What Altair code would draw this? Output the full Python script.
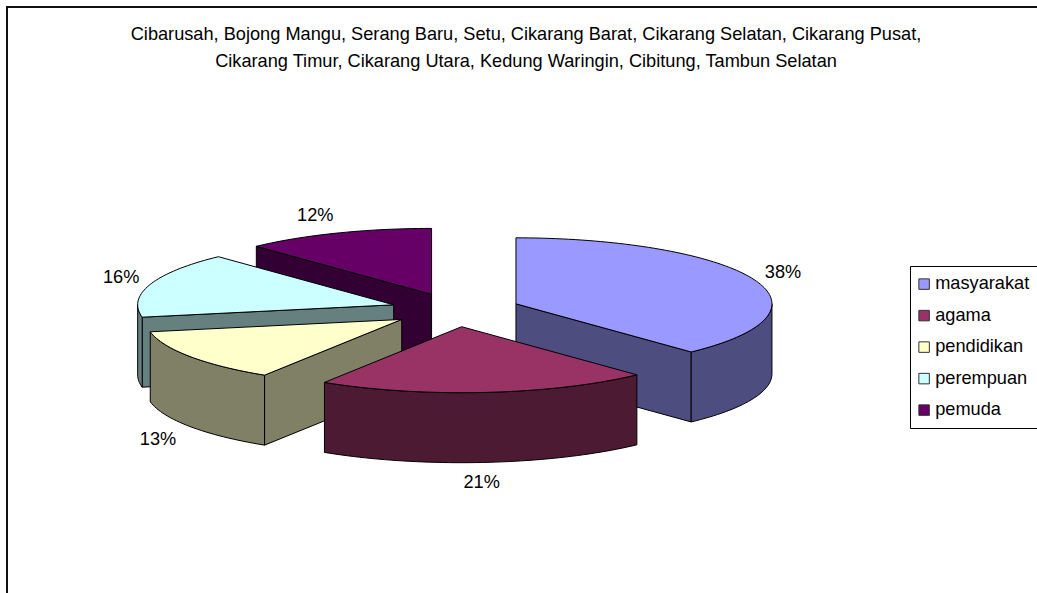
import math

import altair as alt

# Chart content
categories = ["masyarakat", "agama", "pendidikan", "perempuan", "pemuda"]
shares = [38, 21, 13, 16, 12]
heading_lines = [
    "Cibarusah, Bojong Mangu, Serang Baru, Setu, Cikarang Barat, Cikarang Selatan, Cikarang Pusat,",
    "Cikarang Timur, Cikarang Utara, Kedung Waringin, Cibitung, Tambun Selatan",
]

# Styling
top_colors = ["#9999FF", "#993366", "#FFFFCC", "#CCFFFF", "#660066"]
wall_colors = ["#4D4D80", "#4D1A33", "#808066", "#668080", "#330033"]
FONT = "Liberation Sans"
FONT_SIZE = 18.2

# Pie geometry: an ellipse seen from above, with every slice pulled out along its middle
CENTER_X, CENTER_Y = 455.5, 310
RADIUS_X, RADIUS_Y = 256, 66
WALL = 70
EXPLODE = 0.254
STEP = 1.5
PAINT_ORDER = [4, 3, 2, 0, 1]  # back to front
LABEL_NUDGE = [(29, -7), (-4, 21), (-32, 13), (-29, -6), (-22, -17)]


def rim(apex, angle, drop=0):
    rad = math.radians(angle)
    return [apex[0] + RADIUS_X * math.sin(rad), apex[1] - RADIUS_Y * math.cos(rad) + drop]


def arc(apex, start, end, drop=0):
    count = max(1, math.ceil((end - start) / STEP))
    return [rim(apex, start + (end - start) * i / count, drop) for i in range(count + 1)]


def face(name, ring):
    closed = ring + [ring[0]]
    return {
        "type": "Feature",
        "properties": {"face": name},
        "geometry": {"type": "Polygon", "coordinates": [closed]},
    }


def radial_wall(name, apex, angle):
    edge = rim(apex, angle)
    low_edge = rim(apex, angle, WALL)
    return face(name, [list(apex), edge, low_edge, [apex[0], apex[1] + WALL]])


total = sum(shares)
bounds = []
running = 0
for share in shares:
    bounds.append((running * 360 / total, (running + share) * 360 / total))
    running += share

apexes = []
for (start, end) in bounds:
    mid = math.radians((start + end) / 2)
    apexes.append(
        (
            CENTER_X + EXPLODE * RADIUS_X * math.sin(mid),
            CENTER_Y - EXPLODE * RADIUS_Y * math.cos(mid),
        )
    )

faces = []
for i in PAINT_ORDER:
    start, end = bounds[i]
    apex = apexes[i]
    wall_name = categories[i] + " sisi"
    if 180 < start < 360:
        faces.append(radial_wall(wall_name, apex, start))
    if 0 < end < 180:
        faces.append(radial_wall(wall_name, apex, end))
    low, high = max(start, 90), min(end, 270)
    if low < high:
        faces.append(face(wall_name, arc(apex, low, high) + arc(apex, low, high, WALL)[::-1]))
    faces.append(face(categories[i], [list(apex)] + arc(apex, start, end)))

pie_data = alt.InlineData(
    values={"type": "FeatureCollection", "features": faces},
    format=alt.DataFormat(property="features"),
)

pie = (
    alt.Chart(pie_data)
    .mark_geoshape(stroke="#000000", strokeWidth=1, strokeJoin="round")
    .encode(
        color=alt.Color(
            "properties.face:N",
            scale=alt.Scale(
                domain=categories + [c + " sisi" for c in categories],
                range=top_colors + wall_colors,
            ),
            legend=alt.Legend(
                title=None,
                values=categories,
                orient="none",
                legendX=910,
                legendY=266,
                padding=9,
                strokeColor="#000000",
                fillColor="#FFFFFF",
                symbolType="square",
                symbolSize=110,
                symbolOffset=-4,
                symbolStrokeColor="#333333",
                symbolStrokeWidth=1,
                labelFont=FONT,
                labelFontSize=FONT_SIZE,
                labelColor="#000000",
                labelOffset=2,
                rowPadding=12.5,
                labelLimit=130,
            ),
        )
    )
    .project(type="identity", scale=1, translate=[0, 0])
)

# Percentage labels sit just outside the rim of their slice
label_rows = []
for i, share in enumerate(shares):
    mid = sum(bounds[i]) / 2
    drop = WALL if 90 < mid < 270 else 0
    x, y = rim(apexes[i], mid, drop)
    label_rows.append(
        {"text": f"{share}%", "x": x + LABEL_NUDGE[i][0], "y": y + LABEL_NUDGE[i][1]}
    )

heading_rows = [
    {"text": line, "x": 526, "y": 35 + 27 * n} for n, line in enumerate(heading_lines)
]

texts = (
    alt.Chart(alt.Data(values=label_rows + heading_rows))
    .mark_text(font=FONT, fontSize=FONT_SIZE, color="#000000", align="center", baseline="middle")
    .encode(
        x=alt.X("x:Q", scale=None, axis=None),
        y=alt.Y("y:Q", scale=None, axis=None),
        text="text:N",
    )
)

# Outer frame: only its top and left edges fall inside the page
frame_top = alt.Chart(alt.Data(values=[{"a": 0}])).mark_rule(color="#111111", strokeWidth=2).encode(
    x=alt.value(6), x2=alt.value(1037), y=alt.value(7)
)
frame_left = alt.Chart(alt.Data(values=[{"a": 0}])).mark_rule(color="#111111", strokeWidth=2).encode(
    x=alt.value(7), y=alt.value(6), y2=alt.value(593)
)

chart = (
    alt.layer(frame_top, frame_left, pie, texts)
    .properties(
        width=1037,
        height=593,
        padding=0,
        autosize=alt.AutoSizeParams(type="none"),
        background="#FFFFFF",
    )
    .configure_view(stroke=None)
)

chart.save("out.html", embed_options={"renderer": "svg", "actions": False})
